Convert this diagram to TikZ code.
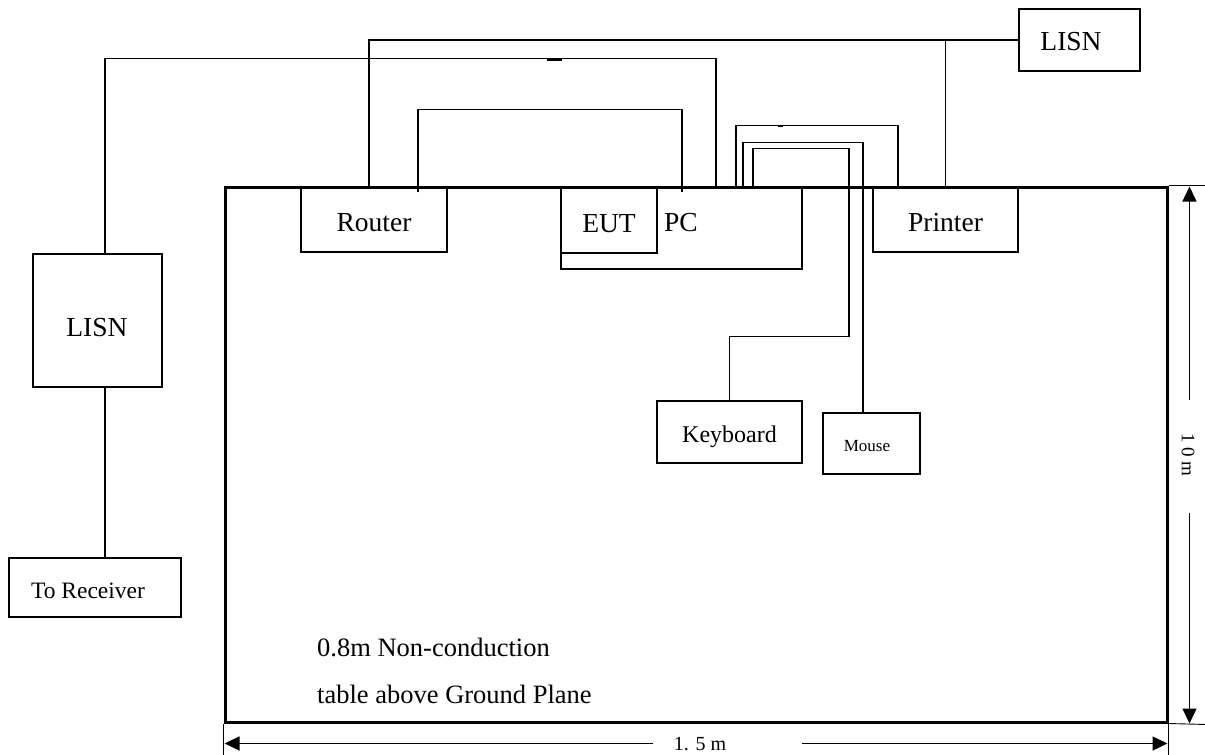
\documentclass[tikz,border=0pt]{standalone}
\usepackage{fontspec}
\setmainfont{Liberation Serif}
\usetikzlibrary{calc,arrows.meta}
\tikzset{
  box/.style={draw, line width=1.5pt, inner sep=0pt, text height=24pt, text depth=0pt, font=\fontsize{27.5}{31}\selectfont},
  cable/.style={line width=1.5pt},
  dimline/.style={line width=1.3pt, -{Triangle[width=14pt,length=15pt]}},
  tickline/.style={line width=0.9pt},
  lbl/.style={inner sep=0pt, font=\fontsize{27.5}{31}\selectfont},
  blob/.style={line width=3pt}
}
\begin{document}
\begin{tikzpicture}[x=1pt,y=-1pt]
\useasboundingbox (0,0) rectangle (1205,755);
% table
\node[draw, line width=3pt, inner sep=0pt, minimum width=942pt, minimum height=535pt] (table) at (696,454.5) {};
% boxes
\node[box, minimum width=146pt, minimum height=65pt] (router) at (374,219.5) {Router};
\node[box, minimum width=241pt, minimum height=82pt] (pc) at (681.5,228) {};
\node[box, minimum width=96pt, minimum height=66pt] (eut) at (609,220) {EUT};
\node[lbl] (pclbl) at (681,223) {PC};
\node[box, minimum width=145pt, minimum height=65pt] (printer) at (945.5,219.5) {Printer};
\node[box, minimum width=121pt, minimum height=62pt] (lisnR) at (1079.5,40) {};
\node[lbl] (lisnRlbl) at (1071,42) {LISN};
\node[box, minimum width=129pt, minimum height=133pt] (lisnL) at (97.5,320.5) {};
\node[lbl] (lisnLlbl) at (97,328) {LISN};
\node[box, minimum width=172pt, minimum height=59pt] (recv) at (95,587.5) {};
\node[lbl, font=\fontsize{23.5}{27}\selectfont] (recvlbl) at (88,591) {To Receiver};
\node[box, minimum width=145pt, minimum height=62pt, font=\fontsize{24}{28}\selectfont, text height=20pt] (keyboard) at (729.5,432) {Keyboard};
\node[box, minimum width=97pt, minimum height=61pt] (mouse) at (871.5,443.5) {};
\node[lbl, font=\fontsize{17}{20}\selectfont] (mouselbl) at (867,446) {Mouse};
% table text
\node[lbl, font=\fontsize{26.5}{30}\selectfont, anchor=base west] (t1) at (317,656) {0.8m Non-conduction};
\node[lbl, font=\fontsize{26.5}{30}\selectfont, anchor=base west] (t2) at (317,703) {table above Ground Plane};
% cables
\draw[cable] ($(lisnL.north)+(7.5,0)$) -- ++(0,-195) -| ($(pc.north)+(34.5,0)$);
\draw[blob] (547,59) -- (562,59);
\draw[cable] ($(router.north)+(-5,0)$) |- (lisnR.west);
\draw[cable] (printer.north) -- (printer.north |- lisnR.west);
\draw[cable] ($(router.north)+(44,6)$) -- ++(0,-83) -| ($(pc.north)+(0.5,6)$);
\draw[cable] ($(pc.north)+(54.5,0)$) -- ++(0,-61) -| ($(printer.north)+(-47.5,0)$);
\draw[blob, line width=2pt] (778,126) -- (783,126);
\draw[cable] ($(pc.north)+(61.5,0)$) -- ++(0,-44) -| ($(mouse.north)+(-8.5,0)$);
\draw[cable] ($(pc.north)+(71.5,0)$) -- ++(0,-38) -- ++(96,0) -- ++(0,188) -| (keyboard.north);
\draw[cable] ($(lisnL.south)+(7.5,0)$) -- ($(recv.north)+(10,0)$);
% dimensions right
\draw[tickline] (table.north east) -- ++(38,0);
\draw[tickline] (table.south east) -- ++(38,1);
\node[lbl, rotate=-90, font=\fontsize{19}{22}\selectfont] (hlbl) at (1188,455) {1 0 m};
\coordinate (hup) at ($(table.north east)+(21,1)$);
\coordinate (hdn) at ($(table.south east)+(21,0)$);
\draw[dimline] (hup |- 0,400) -- (hup);
\draw[dimline] (hdn |- 0,513) -- (hdn);
% dimensions bottom
\draw[tickline] (table.south west) -- ++(0,33);
\draw[tickline] (table.south east) -- ++(0,33);
\node[lbl, font=\fontsize{20}{24}\selectfont] (wlbl) at (700,744) {1. 5 m};
\coordinate (wl) at ($(table.south west)+(1,20)$);
\coordinate (wr) at ($(table.south east)+(-1,20)$);
\draw[dimline] (wl -| 653,0) -- (wl);
\draw[dimline] (wr -| 802,0) -- (wr);
\end{tikzpicture}
\end{document}
